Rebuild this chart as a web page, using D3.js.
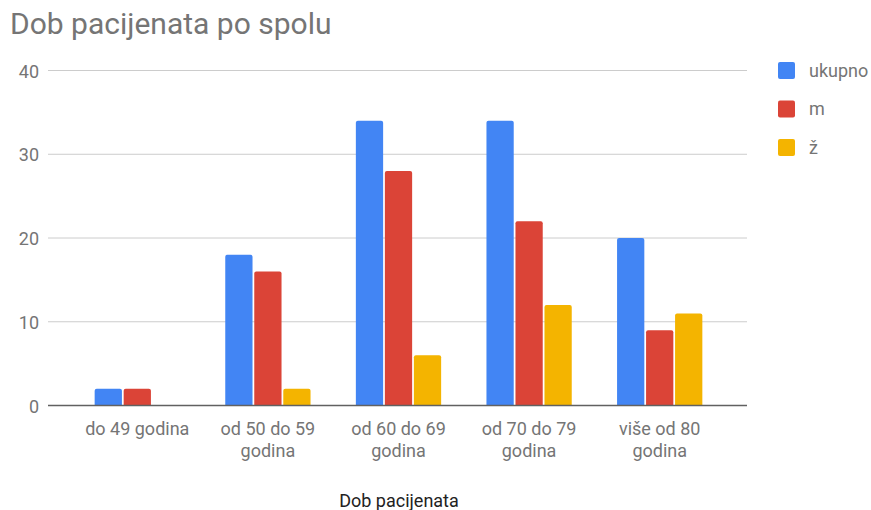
<!DOCTYPE html>
<html><head><meta charset="utf-8">
<script src="https://cdn.jsdelivr.net/npm/d3@7"></script>
<style>body{margin:0;background:#fff;} text{font-family:Roboto,sans-serif;}</style>
</head><body>
<svg id="c" width="871" height="510"></svg>
<script>
const categories = [["do 49 godina"], ["od 50 do 59", "godina"], ["od 60 do 69", "godina"], ["od 70 do 79", "godina"], ["više od 80", "godina"]];
const seriesNames = ["ukupno", "m", "ž"];
const ukupno = [2, 18, 34, 34, 20];
const m = [2, 16, 28, 22, 9];
const z = [0, 2, 6, 12, 11];
const yTicks = [0, 10, 20, 30, 40];
const colors = ["#4285F4", "#DB4437", "#F4B400"];
const values = [ukupno, m, z];

const svg = d3.select("#c");
const x0 = d3.scaleBand().domain(d3.range(categories.length)).range([72, 725]).paddingInner(0.347).paddingOuter(0.1735);
const x1 = d3.scaleBand().domain(d3.range(seriesNames.length)).range([0, x0.bandwidth()]).paddingInner(0.06);
const y = d3.scaleLinear().domain([0, 40]).range([405.5, 70.5]);

svg.append("text").attr("x", 10).attr("y", 34).attr("font-size", 30)
  .attr("fill", "#757575").text("Dob pacijenata po spolu");

// grid
svg.append("g").selectAll("line").data(yTicks.filter(d => d > 0)).join("line")
  .attr("x1", 48).attr("x2", 747).attr("y1", d => y(d)).attr("y2", d => y(d))
  .attr("stroke", "#cccccc").attr("stroke-width", 1);
svg.append("g").selectAll("text").data(yTicks).join("text")
  .attr("x", 39).attr("y", d => y(d) + 7).attr("text-anchor", "end")
  .attr("font-size", 18).attr("fill", "#757575").text(d => d);

// bars
const g = svg.append("g");
categories.forEach((c, i) => {
  values.forEach((arr, s) => {
    const v = arr[i];
    if (v <= 0) return;
    const bx = x0(i) + x1(s), bw = x1.bandwidth(), by = y(v), bh = y(0) - y(v);
    const r = 2;
    g.append("path")
      .attr("d", `M${bx},${by + bh}V${by + r}Q${bx},${by} ${bx + r},${by}H${bx + bw - r}Q${bx + bw},${by} ${bx + bw},${by + r}V${by + bh}Z`)
      .attr("fill", colors[s]);
  });
});

// baseline
svg.append("line").attr("x1", 48).attr("x2", 747).attr("y1", y(0)).attr("y2", y(0))
  .attr("stroke", "#616161").attr("stroke-width", 1.6);

// x labels
const xl = svg.append("g");
categories.forEach((lines, i) => {
  const cx = x0(i) + x0.bandwidth() / 2;
  const t = xl.append("text").attr("x", cx).attr("y", 435)
    .attr("text-anchor", "middle").attr("font-size", 18).attr("fill", "#757575");
  lines.forEach((l, k) => t.append("tspan").attr("x", cx).attr("dy", k === 0 ? 0 : 21.5).text(l));
});

svg.append("text").attr("x", 399).attr("y", 506.5).attr("text-anchor", "middle").attr("font-size", 18).attr("fill", "#222").text("Dob pacijenata");

// legend
const lg = svg.append("g");
seriesNames.forEach((n, s) => {
  const cy = 70.5 + s * 38.5;
  lg.append("rect").attr("x", 778).attr("y", cy - 8.5).attr("width", 17).attr("height", 17).attr("rx", 2).attr("fill", colors[s]);
  lg.append("text").attr("x", 809).attr("y", cy + 6).attr("font-size", 18).attr("fill", "#757575").text(n);
});
</script>
</body></html>
